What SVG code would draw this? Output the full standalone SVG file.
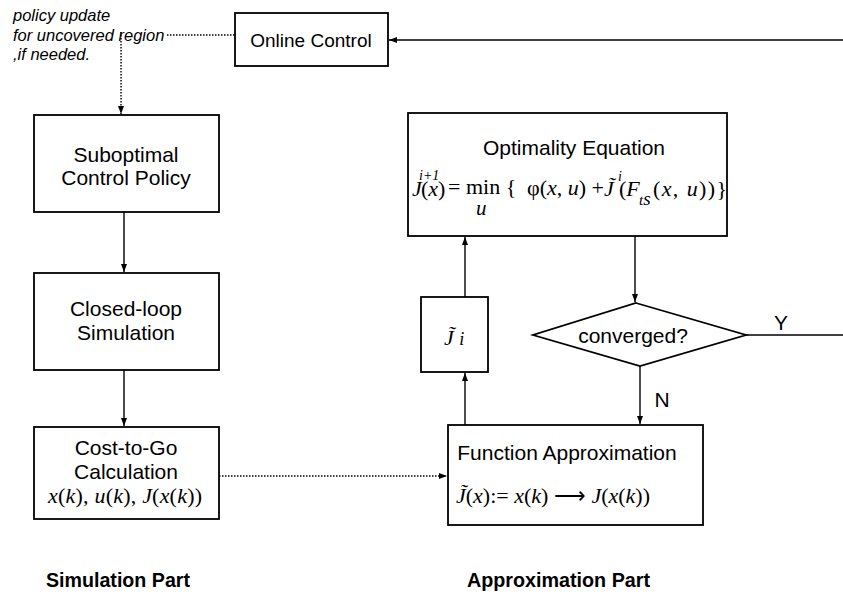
<svg xmlns="http://www.w3.org/2000/svg" width="843" height="594" viewBox="0 0 843 594">
<style>
.box{fill:#fff;stroke:#000;stroke-width:1.8}
.lbl{font-family:"Liberation Sans",Arial,sans-serif;font-size:21px;fill:#000;text-anchor:middle}
.note{font-family:"Liberation Sans",Arial,sans-serif;font-size:16.5px;font-style:italic;fill:#000}
.part{font-family:"Liberation Sans",Arial,sans-serif;font-size:20px;font-weight:bold;fill:#000}
.m{font-family:"Liberation Serif","Times New Roman",serif;font-size:22px;fill:#000}
.i{font-style:italic}
.ln{fill:none;stroke:#000;stroke-width:1.4}
.dot{fill:none;stroke:#000;stroke-width:1.4;stroke-dasharray:1.5 1.5}
</style>
<defs>
<marker id="ah" markerUnits="userSpaceOnUse" markerWidth="8" markerHeight="6" refX="8" refY="3" orient="auto">
<path d="M0,0 L8,3 L0,6 z" fill="#000"/>
</marker>
</defs>

<g id="connectors">
<line class="ln" x1="843" y1="40" x2="389" y2="40" marker-end="url(#ah)"/>
<line class="dot" x1="167" y1="35" x2="235" y2="35"/>
<line class="dot" x1="121" y1="32" x2="121" y2="114" marker-end="url(#ah)"/>
<line class="ln" x1="124" y1="212" x2="124" y2="272" marker-end="url(#ah)"/>
<line class="ln" x1="124" y1="370" x2="124" y2="426" marker-end="url(#ah)"/>
<line class="dot" x1="219" y1="476" x2="447" y2="476" marker-end="url(#ah)"/>
<line class="ln" x1="465" y1="425" x2="465" y2="373" marker-end="url(#ah)"/>
<line class="ln" x1="465" y1="297" x2="465" y2="237" marker-end="url(#ah)"/>
<line class="ln" x1="635" y1="236" x2="635" y2="302" marker-end="url(#ah)"/>
<line class="ln" x1="640" y1="366" x2="640" y2="424" marker-end="url(#ah)"/>
<line class="ln" x1="746" y1="335" x2="843" y2="335"/>
<text class="lbl" x="781" y="330">Y</text>
<text class="lbl" x="662" y="407">N</text>
</g>

<g id="note">
<text class="note" x="13" y="21">policy update</text>
<text class="note" x="13" y="41">for uncovered region</text>
<text class="note" x="13" y="60">,if needed.</text>
</g>

<g id="online-control">
<rect class="box" x="235" y="13" width="153" height="53"/>
<text class="lbl" x="311" y="47" style="font-size:19px">Online Control</text>
</g>

<g id="suboptimal">
<rect class="box" x="34" y="115" width="185" height="97"/>
<text class="lbl" x="126" y="162">Suboptimal</text>
<text class="lbl" x="126" y="185">Control Policy</text>
</g>

<g id="closed-loop">
<rect class="box" x="34" y="273" width="185" height="97"/>
<text class="lbl" x="126" y="316">Closed-loop</text>
<text class="lbl" x="126" y="340">Simulation</text>
</g>

<g id="cost-to-go">
<rect class="box" x="34" y="427" width="185" height="92"/>
<text class="lbl" x="126" y="455">Cost-to-Go</text>
<text class="lbl" x="126" y="479">Calculation</text>
<text class="m" x="48" y="503" font-size="21" textLength="154"><tspan class="i">x</tspan>(<tspan class="i">k</tspan>), <tspan class="i">u</tspan>(<tspan class="i">k</tspan>), <tspan class="i">J</tspan>(<tspan class="i">x</tspan>(<tspan class="i">k</tspan>))</text>
</g>

<g id="optimality">
<rect class="box" x="408" y="113" width="319" height="123"/>
<text class="lbl" x="574" y="155">Optimality Equation</text>
<text class="m"><tspan class="i" x="412" y="196">J</tspan><tspan class="i" x="419" y="180" font-size="14">i+1</tspan><tspan x="421" y="196">(<tspan class="i">x</tspan>)</tspan><tspan x="448" y="194">= min {</tspan><tspan class="i" x="476" y="215" font-size="21">u</tspan><tspan x="527" y="195">φ(<tspan class="i">x</tspan>, <tspan class="i">u</tspan>) +</tspan><tspan class="i" x="604" y="196">J̃</tspan><tspan class="i" x="618" y="181" font-size="14">i</tspan><tspan x="619" y="196">(<tspan class="i">F</tspan></tspan><tspan class="i" x="639" y="205" font-size="15">t<tspan font-size="19">s</tspan></tspan><tspan x="653" y="196" textLength="74">(<tspan class="i">x</tspan>, <tspan class="i">u</tspan>))}</tspan></text>
</g>

<g id="j-tilde">
<rect class="box" x="421" y="297" width="67" height="75"/>
<text class="m i" x="444" y="345">J̃ <tspan font-size="18">i</tspan></text>
</g>

<g id="converged">
<polygon class="box" points="636,303 746,335 640,366 533,335"/>
<text class="lbl" x="633" y="343">converged?</text>
</g>

<g id="function-approx">
<rect class="box" x="448" y="425" width="255" height="100"/>
<text class="lbl" x="567" y="460">Function Approximation</text>
<text class="m" x="456" y="503"><tspan class="i">J̃</tspan>(<tspan class="i">x</tspan>):= <tspan class="i">x</tspan>(<tspan class="i">k</tspan>) ⟶ <tspan class="i">J</tspan>(<tspan class="i">x</tspan>(<tspan class="i">k</tspan>))</text>
</g>

<g id="parts">
<text class="part" x="46" y="587" textLength="144" lengthAdjust="spacingAndGlyphs">Simulation Part</text>
<text class="part" x="467" y="587" textLength="183" lengthAdjust="spacingAndGlyphs">Approximation Part</text>
</g>
</svg>
